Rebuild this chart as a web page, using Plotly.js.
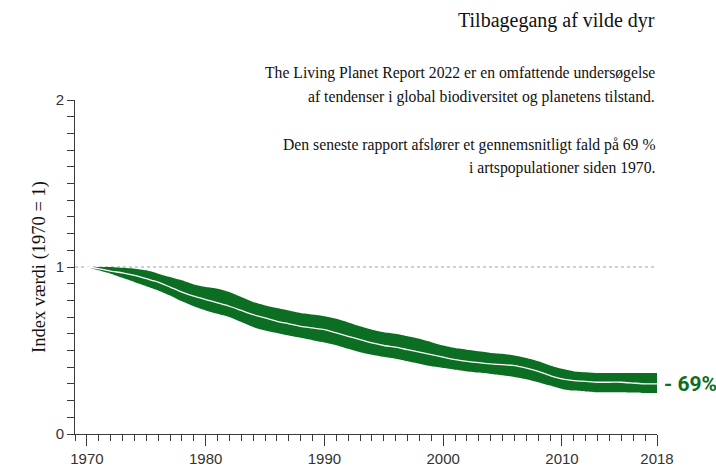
<!DOCTYPE html>
<html>
<head>
<meta charset="utf-8">
<script src="https://cdn.plot.ly/plotly-3.0.1.min.js"></script>
<style>html,body{margin:0;padding:0;background:#fff}#chart{width:716px;height:470px}</style>
</head>
<body>
<div id="chart"></div>
<script>
const years = [1970,1971,1972,1973,1974,1975,1976,1977,1978,1979,1980,1981,1982,1983,1984,1985,1986,1987,1988,1989,1990,1991,1992,1993,1994,1995,1996,1997,1998,1999,2000,2001,2002,2003,2004,2005,2006,2007,2008,2009,2010,2011,2012,2013,2014,2015,2016,2017,2018];
const indexValue = [1.00,0.99,0.975,0.965,0.95,0.93,0.91,0.88,0.85,0.825,0.805,0.785,0.765,0.74,0.715,0.695,0.675,0.66,0.645,0.635,0.625,0.605,0.585,0.565,0.545,0.53,0.52,0.505,0.49,0.475,0.46,0.445,0.435,0.427,0.42,0.415,0.41,0.395,0.375,0.35,0.33,0.32,0.315,0.31,0.31,0.31,0.305,0.30,0.30];
const upperBound = [1.00,1.00,1.00,0.995,0.99,0.98,0.96,0.94,0.92,0.895,0.88,0.87,0.85,0.82,0.79,0.77,0.755,0.74,0.725,0.715,0.705,0.69,0.668,0.645,0.625,0.61,0.60,0.585,0.57,0.55,0.53,0.515,0.505,0.495,0.485,0.48,0.47,0.455,0.435,0.41,0.39,0.375,0.37,0.365,0.365,0.365,0.365,0.365,0.365];
const lowerBound = [1.00,0.98,0.96,0.935,0.91,0.885,0.86,0.83,0.795,0.765,0.74,0.72,0.70,0.67,0.64,0.62,0.605,0.59,0.576,0.562,0.548,0.532,0.51,0.49,0.475,0.462,0.45,0.435,0.42,0.405,0.395,0.385,0.375,0.368,0.36,0.352,0.342,0.328,0.31,0.29,0.27,0.26,0.255,0.25,0.25,0.25,0.248,0.245,0.245];
const xTickVals = [1970,1980,1990,2000,2010,2018];
const xTickText = ['1970','1980','1990','2000','2010','2018'];
const yTickVals = [0,1,2];
const yTickText = ['0','1','2'];
const titleText = 'Tilbagegang af vilde dyr';
const subtitleLines = ['The Living Planet Report 2022 er en omfattende undersøgelse','af tendenser i global biodiversitet og planetens tilstand.','','Den seneste rapport afslører et gennemsnitligt fald på 69 %','i artspopulationer siden 1970.'];
const changeLabel = '- 69%';

const green = '#0b6e22';
const axisColor = '#3a3a3a';
const serif = '"Liberation Serif", "DejaVu Serif", serif';
const sans = '"Liberation Sans", Arial, sans-serif';

const traces = [
  {x: years, y: lowerBound, type: 'scatter', mode: 'lines', line: {width: 0, color: green, shape: 'spline', smoothing: 0.6}, hoverinfo: 'skip', showlegend: false},
  {x: years, y: upperBound, type: 'scatter', mode: 'lines', fill: 'tonexty', fillcolor: green, line: {width: 0, color: green, shape: 'spline', smoothing: 0.6}, hoverinfo: 'skip', showlegend: false},
  {x: years, y: indexValue, type: 'scatter', mode: 'lines', line: {width: 1.3, color: '#ffffff', shape: 'spline', smoothing: 0.6}, showlegend: false}
];

const annotations = [
  {xref: 'paper', yref: 'paper', x: 1, y: (434 - 20) / 334, xanchor: 'right', yanchor: 'middle', text: titleText, showarrow: false, font: {family: serif, size: 20, color: '#111'}}
];
const subY = [73, 97, 121, 145, 168];
subtitleLines.forEach((t, i) => {
  if (!t) return;
  annotations.push({xref: 'paper', yref: 'paper', x: 1, y: (434 - subY[i]) / 334, xanchor: 'right', yanchor: 'middle', text: t, showarrow: false, font: {family: serif, size: 15.7, color: '#111'}});
});
annotations.push({xref: 'x', yref: 'y', x: years[years.length - 1], y: indexValue[indexValue.length - 1], xanchor: 'left', yanchor: 'middle', xshift: 5, text: '<b>' + changeLabel + '</b>', showarrow: false, font: {family: 'Roboto, "Liberation Sans", sans-serif', size: 21, color: green}});

const layout = {
  width: 716, height: 470,
  margin: {l: 75, r: 59, t: 100, b: 36, pad: 0},
  paper_bgcolor: '#fff', plot_bgcolor: '#fff',
  showlegend: false,
  xaxis: {
    range: [1969, 2018], showgrid: false, zeroline: false,
    showline: true, linecolor: axisColor, linewidth: 1,
    tickmode: 'array', tickvals: xTickVals, ticktext: xTickText,
    ticks: 'outside', ticklen: 11, tickcolor: axisColor, tickwidth: 1,
    tickfont: {family: sans, size: 15, color: '#333'},
    minor: {dtick: 1, tick0: 1970, ticks: 'outside', ticklen: 6, tickcolor: axisColor, tickwidth: 1, showgrid: false},
    fixedrange: true
  },
  yaxis: {
    range: [0, 2], showgrid: false, zeroline: false,
    showline: true, linecolor: axisColor, linewidth: 1,
    tickmode: 'array', tickvals: yTickVals, ticktext: yTickText,
    ticks: 'outside', ticklen: 7, tickcolor: axisColor, tickwidth: 1,
    tickfont: {family: sans, size: 15, color: '#333'},
    minor: {dtick: 0.1, tick0: 0, ticks: 'outside', ticklen: 7, tickcolor: axisColor, tickwidth: 1, showgrid: false},
    title: {text: 'Index værdi (1970 = 1)', font: {family: serif, size: 18.5, color: '#111'}, standoff: 5},
    fixedrange: true
  },
  shapes: [
    {type: 'line', xref: 'paper', yref: 'y', x0: 0, x1: 1, y0: 1, y1: 1, line: {color: '#a0a0a0', width: 1, dash: 'dot'}, layer: 'below'}
  ],
  annotations: annotations
};

Plotly.newPlot('chart', traces, layout, {displayModeBar: false, staticPlot: true});
</script>
</body>
</html>
